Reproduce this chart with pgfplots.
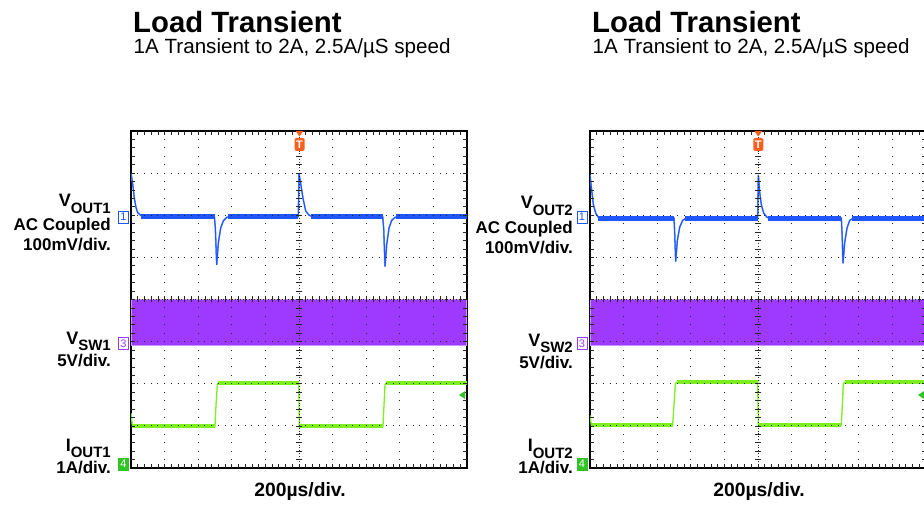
\documentclass[border=0pt]{standalone}
\usepackage{pgfplots}
\pgfplotsset{compat=1.18}
\usepackage{pgfplotstable}
\usepackage{fontspec}
\setmainfont{Liberation Sans}

\definecolor{vout}{RGB}{30,85,255}
\definecolor{voutl}{RGB}{110,150,255}
\definecolor{vsw}{RGB}{158,58,255}
\definecolor{vswl}{RGB}{200,150,255}
\definecolor{iout}{RGB}{125,238,30}
\definecolor{ioutm}{RGB}{50,195,40}
\definecolor{trig}{RGB}{255,95,30}

% ---------- data (x and y in divisions) ----------
\pgfplotstableread{
x y
0 7.0
0.05 6.75
0.1 6.4
0.15 6.18
0.2 6.06
0.3 5.99
0.4 5.97
2.48 5.97
2.51 5.7
2.55 4.82
2.6 5.35
2.67 5.7
2.75 5.87
2.85 5.95
2.95 5.97
4.98 5.97
5.0 7.0
5.05 6.75
5.12 6.4
5.2 6.1
5.3 6.0
5.4 5.97
7.49 5.97
7.52 5.7
7.56 4.78
7.61 5.3
7.68 5.7
7.76 5.88
7.86 5.95
7.95 5.97
10 5.97
}\voutA
\pgfplotstableread{
x y
0.3 5.97
2.49 5.97
nan nan
2.9 5.97
4.98 5.97
nan nan
5.35 5.97
7.5 5.97
nan nan
7.9 5.97
10 5.97
}\voutAflat
\pgfplotstableread{
x y
0 6.96
0.05 6.6
0.1 6.25
0.17 6.05
0.25 5.95
0.32 5.93
2.5 5.93
2.52 5.6
2.55 4.9
2.6 5.4
2.67 5.72
2.76 5.88
2.86 5.93
4.99 5.93
5.01 6.96
5.05 6.55
5.1 6.25
5.17 6.05
5.27 5.95
5.35 5.93
7.48 5.93
7.5 5.6
7.53 4.86
7.58 5.35
7.65 5.7
7.73 5.88
7.83 5.93
10 5.93
}\voutB
\pgfplotstableread{
x y
0.25 5.93
2.5 5.93
nan nan
2.82 5.93
4.99 5.93
nan nan
5.3 5.93
7.47 5.93
nan nan
7.8 5.93
10 5.93
}\voutBflat
\pgfplotstableread{
x y
0 1.3
0.04 1.0
2.5 1.0
2.53 1.5
2.57 1.98
2.6 2.02
4.99 2.02
5.01 1.0
7.5 1.0
7.53 1.5
7.56 1.98
7.6 2.02
10 2.02
}\ioutA
\pgfplotstableread{
x y
0.04 1.0
2.5 1.0
nan nan
2.6 2.02
4.99 2.02
nan nan
5.01 1.0
7.5 1.0
nan nan
7.6 2.02
10 2.02
}\ioutAflat
\pgfplotstableread{
x y
0 1.25
0.04 1.02
2.46 1.02
2.5 1.5
2.54 2.0
2.58 2.03
4.99 2.03
5.01 1.02
7.48 1.02
7.51 1.5
7.54 2.0
7.58 2.03
10 2.03
}\ioutB
\pgfplotstableread{
x y
0.04 1.02
2.46 1.02
nan nan
2.58 2.03
4.99 2.03
nan nan
5.01 1.02
7.48 1.02
nan nan
7.58 2.03
10 2.03
}\ioutBflat
\pgfplotstableread{
x y
0 2.9
10 2.9
10 4.0
0 4.0
}\vswband

\pgfplotsset{
  scope/.style={
    width=336pt, height=337pt, scale only axis,
    xmin=0, xmax=10, ymin=0, ymax=8,
    xtick=\empty, ytick=\empty,
    axis line style={line width=2.5pt},
    unbounded coords=jump,
  }
}

\newcommand{\graticule}[1]{%
\begin{scope}[shift={(#1pt,38pt)}, x=1pt, y=1pt, black!85]
  \foreach \i in {1,2,3,4,6,7,8,9} {
    \draw[line width=1pt, dash pattern=on 1pt off 7.425pt, dash phase=0.5pt] (\i*33.6,0) -- (\i*33.6,337);
  }
  \foreach \j in {1,2,3,5,6,7} {
    \draw[line width=1pt, dash pattern=on 1pt off 5.72pt, dash phase=0.5pt] (0,\j*42.125) -- (336,\j*42.125);
  }
  \draw[line width=0.8pt, dash pattern=on 1pt off 1.8pt] (168,0) -- (168,337);
  \draw[line width=0.8pt, dash pattern=on 1pt off 1.8pt] (0,168.5) -- (336,168.5);
  \foreach \k in {1,...,39} {
    \draw[line width=0.7pt] (165,\k*8.425) -- (171,\k*8.425);
    \draw[line width=0.7pt] (0,\k*8.425) -- (4,\k*8.425);
    \draw[line width=0.7pt] (336,\k*8.425) -- (332,\k*8.425);
  }
  \foreach \k in {1,...,49} {
    \draw[line width=0.7pt] (\k*6.72,165.5) -- (\k*6.72,171.5);
    \draw[line width=0.7pt] (\k*6.72,0) -- (\k*6.72,4);
    \draw[line width=0.7pt] (\k*6.72,337) -- (\k*6.72,333);
  }
\end{scope}}

\begin{document}
\begin{tikzpicture}
\useasboundingbox (0,0) rectangle (924pt,506pt);

% ---------------- left scope ----------------
\begin{axis}[scope, at={(131pt,38pt)}, anchor=south west]
  \addplot[fill=vsw, draw=vswl, line width=1.2pt] table {\vswband} -- cycle;
  \addplot[voutl, line width=1.6pt] table {\voutA};
  \addplot[vout, line width=5pt] table {\voutAflat};
  \addplot[vout, line width=1pt] table {\voutA};
  \addplot[iout, line width=1.3pt] table {\ioutA};
  \addplot[iout, line width=4pt] table {\ioutAflat};
\end{axis}
\graticule{131}

% ---------------- right scope ----------------
\begin{axis}[scope, at={(590pt,38pt)}, anchor=south west]
  \addplot[fill=vsw, draw=vswl, line width=1.2pt] table {\vswband} -- cycle;
  \addplot[voutl, line width=1.6pt] table {\voutB};
  \addplot[vout, line width=5pt] table {\voutBflat};
  \addplot[vout, line width=1pt] table {\voutB};
  \addplot[iout, line width=1.3pt] table {\ioutB};
  \addplot[iout, line width=4pt] table {\ioutBflat};
\end{axis}
\graticule{590}

% ---------------- annotations (pixel coordinates, y downward) ----------------
\begin{scope}[x=1pt, y=-1pt, shift={(0pt,506pt)}]
  \tikzset{lab/.style={inner sep=0pt, anchor=base east, font=\bfseries\fontsize{17}{17}\selectfont}}
  % titles
  \node[inner sep=0pt, anchor=base west, font=\bfseries\fontsize{29.3}{29.3}\selectfont] at (133,32.7) {Load Transient};
  \node[inner sep=0pt, anchor=base west, font=\fontsize{20.6}{20.6}\selectfont] at (133.5,53.3) {1A Transient to 2A, 2.5A/µS speed};
  \node[inner sep=0pt, anchor=base west, font=\bfseries\fontsize{29.3}{29.3}\selectfont] at (592,32.7) {Load Transient};
  \node[inner sep=0pt, anchor=base west, font=\fontsize{20.6}{20.6}\selectfont] at (592.5,53.3) {1A Transient to 2A, 2.5A/µS speed};
  % time base
  \node[inner sep=0pt, anchor=base, font=\bfseries\fontsize{19.3}{19.3}\selectfont] at (300,496.7) {200µs/div.};
  \node[inner sep=0pt, anchor=base, font=\bfseries\fontsize{19.3}{19.3}\selectfont] at (759,496.7) {200µs/div.};

  % left labels
  \node[lab] at (111,206.7) {{\fontsize{18}{18}\selectfont V}\raisebox{-6.5pt}{\fontsize{15}{15}\selectfont OUT1}};
  \node[lab] at (111,231) {AC Coupled};
  \node[lab] at (111,250.5) {100mV/div.};
  \node[lab] at (111,344.3) {{\fontsize{18}{18}\selectfont V}\raisebox{-6pt}{\fontsize{15}{15}\selectfont SW1}};
  \node[lab] at (111,366.2) {5V/div.};
  \node[lab] at (111,451.2) {{\fontsize{18}{18}\selectfont I}\raisebox{-6.3pt}{\fontsize{15}{15}\selectfont OUT1}};
  \node[lab] at (111,473.5) {1A/div.};

  % right labels
  \node[lab] at (573,209) {{\fontsize{18}{18}\selectfont V}\raisebox{-6.5pt}{\fontsize{15}{15}\selectfont OUT2}};
  \node[lab] at (573,233.3) {AC Coupled};
  \node[lab] at (573,254) {100mV/div.};
  \node[lab] at (573,346.5) {{\fontsize{18}{18}\selectfont V}\raisebox{-6pt}{\fontsize{15}{15}\selectfont SW2}};
  \node[lab] at (573,368.5) {5V/div.};
  \node[lab] at (573,452) {{\fontsize{18}{18}\selectfont I}\raisebox{-6.3pt}{\fontsize{15}{15}\selectfont OUT2}};
  \node[lab] at (573,473.5) {1A/div.};

  % channel markers
  \tikzset{chm/.style={inner sep=0pt, minimum width=10pt, minimum height=12pt, line width=0.8pt, font=\fontsize{11}{11}\selectfont}}
  \foreach \xx in {123.5,582} {
    \node[chm, draw=vout, fill=white, text=vout] at (\xx,217) {1};
    \node[chm, draw=vsw, fill=white, text=vsw] at (\xx,343.5) {3};
    \node[chm, draw=ioutm, fill=ioutm, text=white] at (\xx,464) {4};
  }
  % trigger markers
  \foreach \xx in {299.5,758.3} {
    \fill[trig] (\xx-4,131) -- (\xx+4,131) -- (\xx,136.5) -- cycle;
    \node[inner sep=0pt, minimum width=10pt, minimum height=13pt, fill=trig, rounded corners=1.5pt, text=white, font=\bfseries\fontsize{11}{11}\selectfont] at (\xx,144.5) {T};
  }
  % trigger level markers
  \foreach \xx in {459,918} {
    \fill[ioutm] (\xx,395) -- (\xx+6,391) -- (\xx+6,399) -- cycle;
  }
\end{scope}
\end{tikzpicture}
\end{document}
